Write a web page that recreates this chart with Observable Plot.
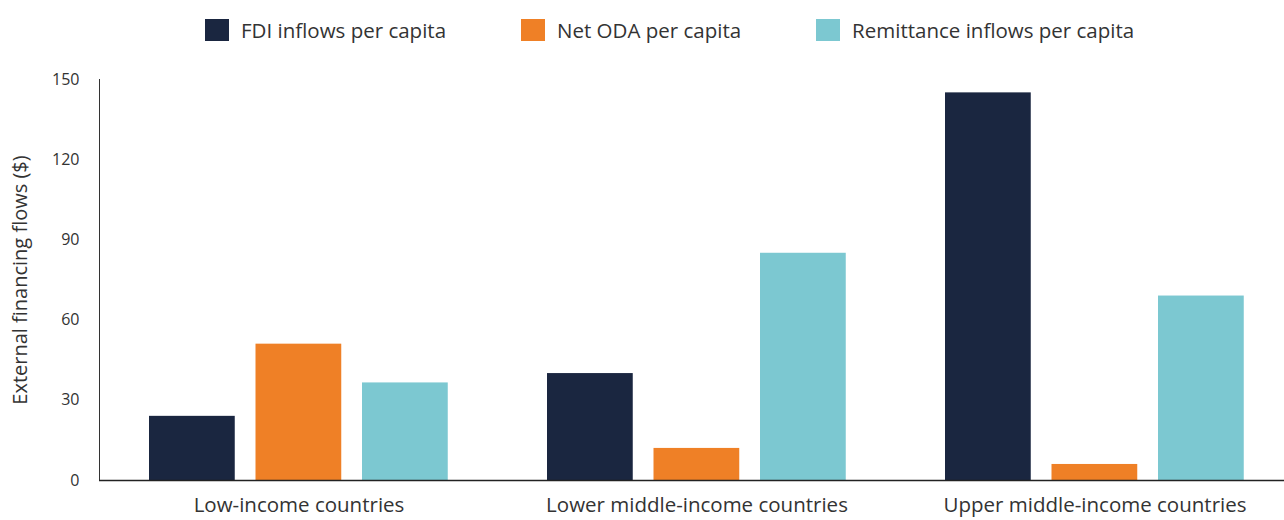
<!DOCTYPE html>
<html><head><meta charset="utf-8">
<script src="https://cdn.jsdelivr.net/npm/d3@7"></script>
<script src="https://cdn.jsdelivr.net/npm/@observablehq/plot@0.6"></script>
<style>
body{margin:0;background:#fff;font-family:"Open Sans",sans-serif;}
#legend{height:60px;display:flex;align-items:center;padding-left:205px;box-sizing:border-box;}
.item{display:flex;align-items:center;margin-right:75px;font-size:20.5px;color:#333;}
.sw{width:24px;height:22px;margin-right:12px;}
</style></head><body>
<div id="legend"></div><div id="chart"></div>
<script>
const groups = ["Low-income countries", "Lower middle-income countries", "Upper middle-income countries"];
const seriesNames = ["FDI inflows per capita", "Net ODA per capita", "Remittance inflows per capita"];
const fdi = [24, 40, 145];
const oda = [51, 12, 6];
const remit = [36.5, 85, 69];
const colors = ["#1a2640", "#ef8026", "#7cc8d1"];
const yTicks = [0, 30, 60, 90, 120, 150];
const yLabel = "External financing flows ($)";

const values = [fdi, oda, remit];

const legend = document.getElementById("legend");
seriesNames.forEach((s, i) => {
  const it = document.createElement("div"); it.className = "item";
  const sw = document.createElement("div"); sw.className = "sw"; sw.style.background = colors[i];
  const t = document.createElement("span"); t.textContent = s;
  it.appendChild(sw); it.appendChild(t); legend.appendChild(it);
});

const bandW = 299.25, barW = 86, barStep = 106.5;
const barMarks = seriesNames.map((s, i) =>
  Plot.barY(groups.map((g, j) => ({group: g, series: s, value: values[i][j]})), {
    x: "group", y: "value", fill: colors[i],
    insetLeft: i * barStep, insetRight: bandW - barW - i * barStep
  })
);

const chart = Plot.plot({
  width: 1284, height: 460,
  marginLeft: 99, marginRight: 0, marginTop: 19, marginBottom: 40,
  style: {fontFamily: "Open Sans", fontSize: "18px", color: "#333", background: "#fff"},
  x: {domain: groups, paddingInner: 0.25, paddingOuter: 0, insetLeft: 49, insetRight: 39, label: null},
  y: {domain: [0, 150], label: null},
  marks: [
    ...barMarks,
    Plot.axisY({ticks: yTicks, tickSize: 0, tickPadding: 20, label: null, fontSize: 16}),
    Plot.axisX({tickSize: 0, tickPadding: 17, label: null, fontSize: 20.5}),
    Plot.frame({anchor: "left", stroke: "#333", strokeWidth: 1}),
    Plot.ruleY([0], {stroke: "#222", strokeWidth: 1.5}),
    Plot.text([yLabel], {text: d => d, frameAnchor: "left", textAnchor: "middle", rotate: -90, dx: -79, fontSize: 20, fill: "#333"})
  ]
});
document.getElementById("chart").appendChild(chart);
</script>
</body></html>
